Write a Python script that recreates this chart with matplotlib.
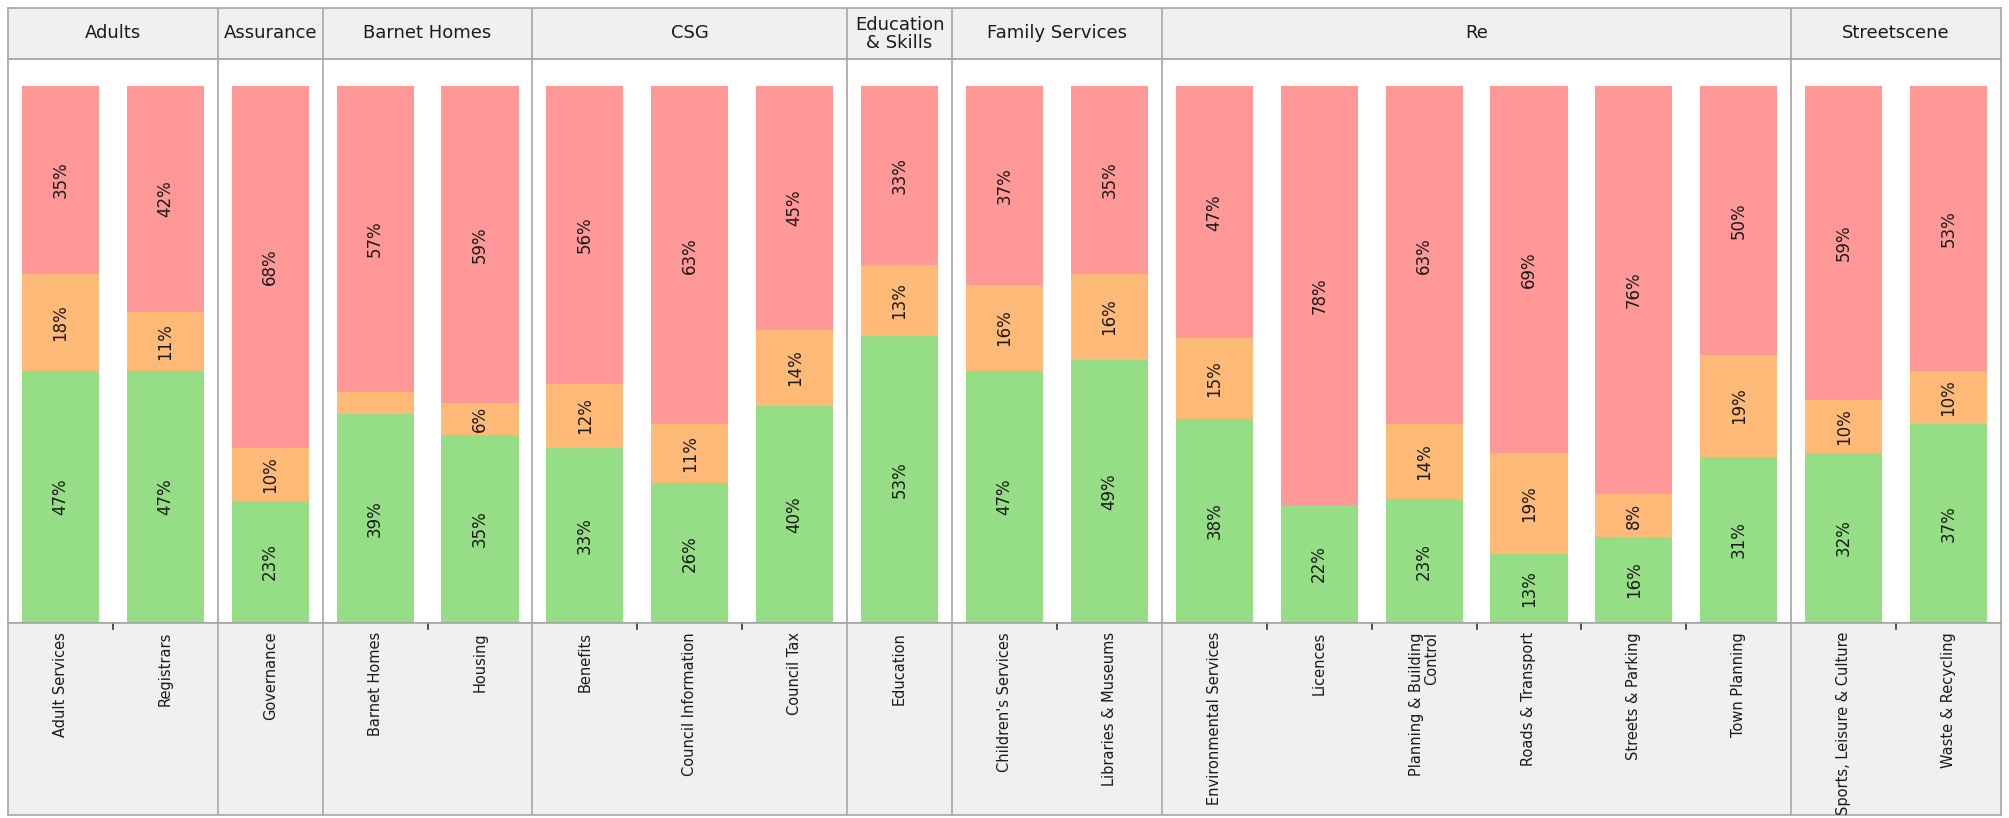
import matplotlib
matplotlib.use("Agg")
import matplotlib.pyplot as plt
import numpy as np

# ---------------- data ----------------
categories = ["Adult Services", "Registrars", "Governance", "Barnet Homes", "Housing",
              "Benefits", "Council Information", "Council Tax", "Education",
              "Children's Services", "Libraries & Museums", "Environmental Services",
              "Licences", "Planning & Building\nControl", "Roads & Transport",
              "Streets & Parking", "Town Planning", "Sports, Leisure & Culture",
              "Waste & Recycling"]
groups = ["Adults", "Adults", "Assurance", "Barnet Homes", "Barnet Homes",
          "CSG", "CSG", "CSG", "Education\n& Skills",
          "Family Services", "Family Services", "Re",
          "Re", "Re", "Re", "Re", "Re", "Streetscene", "Streetscene"]
green = [47, 47, 23, 39, 35, 33, 26, 40, 53, 47, 49, 38, 22, 23, 13, 16, 31, 32, 37]
orange = [18, 11, 10, 4, 6, 12, 11, 14, 13, 16, 16, 15, 0, 14, 19, 8, 19, 10, 10]
red = [35, 42, 68, 57, 59, 56, 63, 45, 33, 37, 35, 47, 78, 63, 69, 76, 50, 59, 53]

C_GREEN = "#96DE86"
C_ORANGE = "#FFBA78"
C_RED = "#FF9896"
C_LINE = "#a6a6a6"
C_BG = "#f0f0f0"
TXT = "#1a1a1a"

W, H = 2009, 818
fig = plt.figure(figsize=(W / 100, H / 100), dpi=100)
fig.patch.set_facecolor("white")

left, right = 8, 2001
hdr_top, hdr_bot = 8, 59
plot_bot = 623
lab_bot = 815


def rect(top, bot):
    return [left / W, 1 - bot / H, (right - left) / W, (bot - top) / H]


ax = fig.add_axes(rect(hdr_bot, plot_bot))
axh = fig.add_axes(rect(hdr_top, hdr_bot))
axl = fig.add_axes(rect(plot_bot, lab_bot))

n = len(categories)
x = np.arange(n) + 0.5
g = np.array(green, float)
o = np.array(orange, float)
r = np.array(red, float)
tot = g + o + r
gf, of, rf = g / tot, o / tot, r / tot

bw = 0.735
ax.bar(x, gf, width=bw, color=C_GREEN, linewidth=0)
ax.bar(x, of, width=bw, bottom=gf, color=C_ORANGE, linewidth=0)
ax.bar(x, rf, width=bw, bottom=gf + of, color=C_RED, linewidth=0)

for i in range(n):
    segs = [(green[i], 0, gf[i]), (orange[i], gf[i], of[i]), (red[i], gf[i] + of[i], rf[i])]
    for v, b, h in segs:
        if v >= 5:
            ax.text(x[i], b + h / 2, f"{v}%", rotation=90, ha="center", va="center",
                    fontsize=12, color=TXT)

top_frac = (plot_bot - 86) / (plot_bot - hdr_bot)
for a in (ax, axh, axl):
    a.set_xlim(0, n)
    a.set_xticks([])
    a.set_yticks([])
    for s in a.spines.values():
        s.set_color(C_LINE)
        s.set_linewidth(1.2)
ax.set_ylim(0, 1 / top_frac)
axh.set_ylim(0, 1)
axl.set_ylim(0, 1)
axh.set_facecolor(C_BG)
axl.set_facecolor(C_BG)
ax.set_facecolor("white")

# group boundaries
starts = [0]
for i in range(1, n):
    if groups[i] != groups[i - 1]:
        starts.append(i)
ends = starts[1:] + [n]
for s in starts[1:]:
    for a in (ax, axh, axl):
        a.axvline(s, color=C_LINE, lw=1.2)

for s, e in zip(starts, ends):
    axh.text((s + e) / 2, 0.5, groups[s], ha="center", va="center", fontsize=13,
             color=TXT, linespacing=1.0)
    # ticks between bars within a group
    for b in range(s + 1, e):
        axl.plot([b, b], [1, 1 - 6 / (lab_bot - plot_bot)], color="#333333", lw=1.2,
                 clip_on=False)

for i in range(n):
    axl.text(x[i], 1 - 9 / (lab_bot - plot_bot), categories[i], rotation=90,
             ha="center", va="top", multialignment="right", fontsize=10.5,
             color=TXT, linespacing=0.95)

fig.savefig("out.png", dpi=100, facecolor="white")
